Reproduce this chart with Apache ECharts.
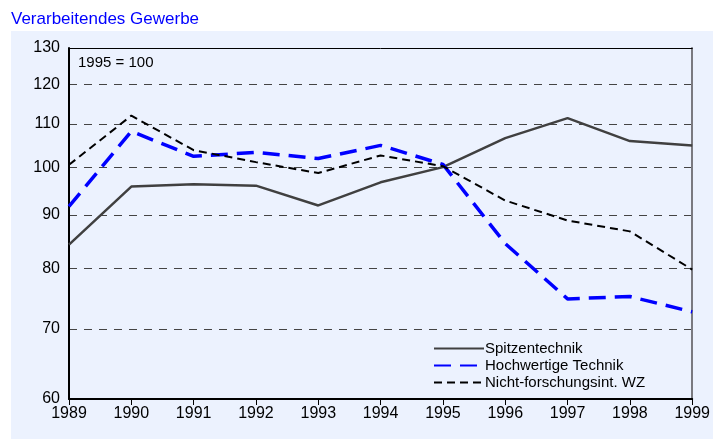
<!DOCTYPE html>
<html>
<head>
<meta charset="utf-8">
<script src="https://cdn.jsdelivr.net/npm/echarts@6/dist/echarts.min.js"></script>
<style>
  html, body { margin: 0; padding: 0; background: #fff; }
  .panel {
    position: absolute;
    left: 11px;
    top: 31px;
    width: 702px;
    height: 408px;
    background: #ecf2fe;
  }
  #chart {
    position: absolute;
    left: 0;
    top: 0;
    width: 713px;
    height: 439px;
  }
</style>
</head>
<body>
<div class="panel"></div>
<div id="chart"></div>
<script>
const years = ['1989', '1990', '1991', '1992', '1993', '1994', '1995', '1996', '1997', '1998', '1999'];
const spitzentechnik = [84.3, 95.8, 96.3, 96.0, 91.9, 96.7, 100.0, 106.6, 111.4, 105.9, 104.9];
const hochwertigeTechnik = [91.7, 108.2, 102.4, 103.3, 101.9, 104.9, 100.6, 84.5, 74.8, 75.2, 72.7];
const nichtForschungsint = [100.5, 112.0, 103.8, 101.1, 98.7, 102.6, 100.2, 92.9, 88.9, 86.8, 79.8];
const yLabels = [60, 70, 80, 90, 100, 110, 120, 130];
const yGridLines = [70, 80, 90, 100, 110, 120];

const font = 'Liberation Sans, Arial, sans-serif';

const chart = echarts.init(document.getElementById('chart'));

const option = {
  animation: false,
  title: {
    text: 'Verarbeitendes Gewerbe',
    left: 6,
    top: 6,
    textStyle: { color: '#0000ff', fontSize: 17, fontWeight: 'normal', fontFamily: font },
  },
  graphic: [
    {
      type: 'text',
      left: 78,
      top: 55,
      style: { text: '1995 = 100', fontSize: 15, fontFamily: font, fill: '#000' },
    },
  ],
  legend: {
    orient: 'vertical',
    left: 433,
    top: 341,
    padding: 0,
    itemWidth: 50,
    itemHeight: 13,
    itemGap: 2,
    itemStyle: { opacity: 0 }, // nur Linien, keine Symbole
    textStyle: { fontSize: 15, fontFamily: font, color: '#000', padding: [0, 0, 0, -4], lineHeight: 14 },
  },
  grid: { left: 69, right: 18, top: 48, bottom: 40 },
  xAxis: [
    {
      type: 'category',
      data: years,
      boundaryGap: false,
      axisLine: { lineStyle: { color: '#000', width: 2 } },
      axisTick: { show: true, length: 6, lineStyle: { color: '#000', width: 1 } },
      axisLabel: { color: '#000', fontSize: 16, fontFamily: font, margin: 7, showMinLabel: true, showMaxLabel: true, interval: 0 },
      splitLine: { show: false },
    },
    {
      // obere Rahmenlinie
      type: 'category',
      data: years,
      boundaryGap: false,
      position: 'top',
      axisLine: { lineStyle: { color: '#000', width: 1 } },
      axisTick: { show: false },
      axisLabel: { show: false },
      splitLine: { show: false },
    },
  ],
  yAxis: [
    {
      type: 'log',
      logBase: 10,
      min: 60,
      max: 130,
      axisLine: { show: true, lineStyle: { color: '#000', width: 2 } },
      axisTick: { show: false, customValues: yGridLines },
      axisLabel: {
        customValues: yLabels,
        color: '#000',
        fontSize: 16,
        fontFamily: font,
        margin: 9,
        formatter: (v) => String(Math.round(v)),
      },
      splitLine: {
        show: true,
        lineStyle: { color: '#444', width: 1, type: [8, 7] },
      },
    },
    {
      // rechte Rahmenlinie
      type: 'log',
      logBase: 10,
      min: 60,
      max: 130,
      position: 'right',
      axisLine: { show: true, lineStyle: { color: '#7a7a80', width: 2 } },
      axisTick: { show: false },
      axisLabel: { show: false },
      splitLine: { show: false },
    },
  ],
  series: [
    {
      name: 'Spitzentechnik',
      type: 'line',
      data: spitzentechnik,
      symbol: 'none',
      color: '#404040',
      lineStyle: { color: '#404040', width: 2.5, type: 'solid' },
    },
    {
      name: 'Hochwertige Technik',
      type: 'line',
      data: hochwertigeTechnik,
      symbol: 'none',
      color: '#0000ff',
      lineStyle: { color: '#0000ff', width: 3.5, type: [17, 9] },
    },
    {
      name: 'Nicht-forschungsint. WZ',
      type: 'line',
      data: nichtForschungsint,
      symbol: 'none',
      color: '#000',
      lineStyle: { color: '#000', width: 2, type: [8, 5] },
    },
  ],
};

chart.setOption(option);
</script>
</body>
</html>
